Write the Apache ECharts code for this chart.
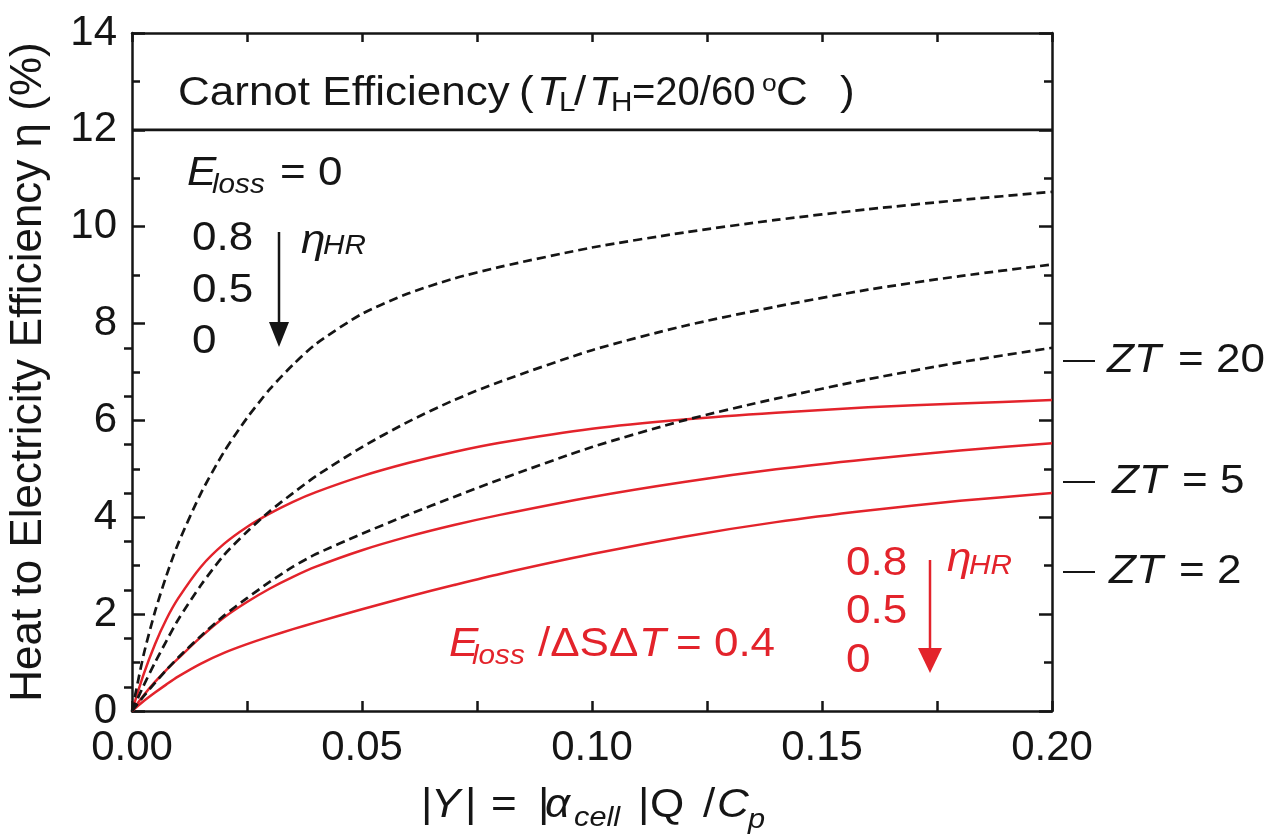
<!DOCTYPE html>
<html>
<head>
<meta charset="utf-8">
<script src="https://cdn.jsdelivr.net/npm/echarts@6/dist/echarts.min.js"></script>
<style>
  html, body { margin: 0; padding: 0; background: #ffffff; }
  #chart { width: 1271px; height: 835px; }
</style>
</head>
<body>
<div id="chart"></div>
<script>
// |Y| values shared by every curve
const Y_ABS = [0, 0.0025, 0.005, 0.0075, 0.01, 0.015, 0.02, 0.025, 0.03, 0.035, 0.04,
               0.05, 0.06, 0.07, 0.08, 0.10, 0.12, 0.14, 0.16, 0.18, 0.20];

// Efficiency (%) with E_loss = 0, for eta_HR = 0.8 / 0.5 / 0
const ETA_NOLOSS_HR08 = [0, 1.15, 2.05, 2.8, 3.45, 4.5, 5.35, 6.05, 6.65, 7.15, 7.58,
                         8.2, 8.62, 8.93, 9.17, 9.57, 9.88, 10.14, 10.36, 10.55, 10.72];
const ETA_NOLOSS_HR05 = [0, 0.52, 1.0, 1.45, 1.88, 2.6, 3.22, 3.7, 4.13, 4.5, 4.85,
                         5.45, 5.97, 6.42, 6.8, 7.45, 7.95, 8.35, 8.7, 8.98, 9.22];
const ETA_NOLOSS_HR0  = [0, 0.3, 0.58, 0.85, 1.1, 1.55, 1.97, 2.33, 2.67, 2.98, 3.24,
                         3.66, 4.05, 4.42, 4.78, 5.45, 6.0, 6.45, 6.85, 7.2, 7.5];

// Efficiency (%) with E_loss / dS dT = 0.4, for eta_HR = 0.8 / 0.5 / 0
const ETA_LOSS_HR08 = [0, 0.75, 1.38, 1.9, 2.32, 2.98, 3.45, 3.8, 4.08, 4.32, 4.52,
                       4.85, 5.12, 5.35, 5.54, 5.83, 6.02, 6.16, 6.27, 6.35, 6.42];
const ETA_LOSS_HR05 = [0, 0.32, 0.6, 0.85, 1.08, 1.53, 1.93, 2.25, 2.53, 2.77, 2.98,
                       3.32, 3.6, 3.84, 4.05, 4.42, 4.73, 4.99, 5.2, 5.38, 5.53];
const ETA_LOSS_HR0  = [0, 0.2, 0.38, 0.55, 0.71, 0.98, 1.2, 1.38, 1.54, 1.69, 1.83,
                       2.1, 2.36, 2.6, 2.83, 3.24, 3.6, 3.9, 4.14, 4.34, 4.5];

// Carnot limit between 20 and 60 degC
const CARNOT_EFF = 12;
const X_RANGE = [0, 0.20];
const Y_RANGE = [0, 14];
const RIGHT_FINE_TICKS = [0.5, 1.5, 2.5, 3.5, 4.5, 5.5, 6.5, 7.5];

const FONT = '"Liberation Sans", Arial, Helvetica, sans-serif';
const BLACK = '#151515';
const RED = '#e3232b';
const SX = 1.1;

const pairs = (ys) => Y_ABS.map((x, i) => [x, ys[i]]);

function txt(x, y, s, o) {
  o = o || {};
  return {
    type: 'text', x: x, y: y, z: 100,
    scaleX: o.sx === undefined ? SX : o.sx,
    style: {
      text: s,
      font: (o.italic ? 'italic ' : '') + (o.size || 40) + 'px ' + FONT,
      fill: o.color || BLACK,
      align: 'left',
      verticalAlign: 'middle'
    }
  };
}
function seg(x1, y1, x2, y2, color, w) {
  return { type: 'line', z: 100, shape: { x1, y1, x2, y2 }, style: { stroke: color, lineWidth: w || 2.5 } };
}
function head(x, yBase, yTip, half, color) {
  return { type: 'polygon', z: 100, shape: { points: [[x - half, yBase], [x + half, yBase], [x, yTip]] }, style: { fill: color } };
}

const dashed = { color: BLACK, width: 2.7, type: [9, 5] };
const solidRed = { color: RED, width: 2.5 };

function curve(name, ys, style) {
  return {
    name, type: 'line', data: pairs(ys), showSymbol: false, symbol: 'none',
    smooth: 0.25, lineStyle: style, silent: true,
    xAxisIndex: 0, yAxisIndex: 0
  };
}

const chart = echarts.init(document.getElementById('chart'), null, { renderer: 'canvas' });

const axisLineOn = { show: true, onZero: false, lineStyle: { color: BLACK, width: 2.5 } };
const tickStyle = { color: BLACK, width: 2.5 };

chart.setOption({
  animation: false,
  backgroundColor: '#ffffff',
  grid: { left: 132, right: 219, top: 33, bottom: 124, containLabel: false, outerBoundsMode: 'none' },
  xAxis: [
    {
      type: 'value', position: 'bottom', min: X_RANGE[0], max: X_RANGE[1], interval: 0.05,
      axisLine: axisLineOn,
      axisTick: { show: true, inside: true, length: 10, lineStyle: tickStyle },
      minorTick: { show: true, splitNumber: 2, length: 10, lineStyle: tickStyle },
      splitLine: { show: false },
      axisLabel: {
        margin: 16, color: BLACK, fontFamily: FONT, fontSize: 42,
        formatter: (v) => v.toFixed(2)
      }
    },
    {
      type: 'value', position: 'top', min: X_RANGE[0], max: X_RANGE[1], interval: 0.05,
      axisLine: axisLineOn,
      axisTick: { show: true, inside: true, length: 9, lineStyle: tickStyle },
      minorTick: { show: true, splitNumber: 2, length: 9, lineStyle: tickStyle },
      splitLine: { show: false }, axisLabel: { show: false }
    }
  ],
  yAxis: [
    {
      type: 'value', position: 'left', min: Y_RANGE[0], max: Y_RANGE[1], interval: 2,
      name: 'Heat to Electricity Efficiency η (%)',
      nameLocation: 'middle', nameGap: 81, nameRotate: 90,
      nameTextStyle: { color: BLACK, fontFamily: FONT, fontSize: 44 },
      axisLine: axisLineOn,
      axisTick: { show: true, inside: true, length: 13, lineStyle: tickStyle },
      minorTick: { show: true, splitNumber: 2, length: 8, lineStyle: tickStyle },
      splitLine: { show: false },
      axisLabel: { margin: 15, color: BLACK, fontFamily: FONT, fontSize: 42 }
    },
    {
      type: 'value', position: 'right', min: Y_RANGE[0], max: Y_RANGE[1], interval: 2,
      axisLine: axisLineOn,
      axisTick: { show: true, inside: true, length: 13, lineStyle: tickStyle },
      minorTick: { show: true, splitNumber: 2, length: 8, lineStyle: tickStyle },
      splitLine: { show: false }, axisLabel: { show: false }
    },
    {
      type: 'value', position: 'right', min: Y_RANGE[0], max: Y_RANGE[1], interval: 2,
      axisLine: { show: false },
      axisTick: { show: true, inside: true, length: 8, customValues: RIGHT_FINE_TICKS, lineStyle: tickStyle },
      splitLine: { show: false }, axisLabel: { show: false }
    }
  ],
  series: [
    {
      name: 'Carnot', type: 'line', silent: true, symbol: 'none',
      data: [[X_RANGE[0], CARNOT_EFF], [X_RANGE[1], CARNOT_EFF]],
      lineStyle: { color: BLACK, width: 2.6 }
    },
    curve('loss, ηHR 0.8', ETA_LOSS_HR08, solidRed),
    curve('loss, ηHR 0.5', ETA_LOSS_HR05, solidRed),
    curve('loss, ηHR 0', ETA_LOSS_HR0, solidRed),
    curve('no loss, ηHR 0.8', ETA_NOLOSS_HR08, dashed),
    curve('no loss, ηHR 0.5', ETA_NOLOSS_HR05, dashed),
    curve('no loss, ηHR 0', ETA_NOLOSS_HR0, dashed)
  ],
  graphic: [
    // Carnot caption
    txt(178, 94, 'Carnot Efficiency'),
    txt(519, 94, '('),
    txt(537, 94, 'T', { italic: true }),
    txt(559, 104, 'L', { size: 27 }),
    txt(574, 94, '/'),
    txt(589, 94, 'T', { italic: true }),
    txt(611, 104, 'H', { size: 27 }),
    txt(632, 94, '=20/60', { sx: 1.0 }),
    txt(762, 84, 'o', { size: 24 }),
    txt(776, 94, 'C'),
    txt(840, 94, ')'),

    // E_loss = 0 group
    txt(187, 174, 'E', { italic: true }),
    txt(212, 185, 'loss', { italic: true, size: 27 }),
    txt(280, 174, '= 0'),
    txt(192, 239, '0.8'),
    txt(192, 291, '0.5'),
    txt(192, 342, '0'),
    seg(279, 232, 279, 326, BLACK, 2.5),
    head(279, 322, 347, 10, BLACK),
    txt(301, 242, 'η', { italic: true }),
    txt(323, 246, 'HR', { italic: true, size: 27 }),

    // E_loss / dS dT = 0.4 group
    txt(449, 645, 'E', { italic: true, color: RED }),
    txt(472, 656, 'loss', { italic: true, size: 27, color: RED }),
    txt(538, 645, '/ΔSΔ', { color: RED }),
    txt(639, 645, 'T', { italic: true, color: RED }),
    txt(676, 645, '= 0.4', { color: RED }),
    txt(846, 564, '0.8', { color: RED }),
    txt(846, 612, '0.5', { color: RED }),
    txt(846, 661, '0', { color: RED }),
    seg(930, 560, 930, 652, RED, 2.5),
    head(930, 648, 673, 12, RED),
    txt(947, 560, 'η', { italic: true, color: RED }),
    txt(969, 566, 'HR', { italic: true, size: 27, color: RED }),

    // ZT labels beside the right axis
    seg(1063, 361, 1095, 361, BLACK, 2),
    txt(1107, 361, 'ZT', { italic: true }),
    txt(1178, 361, '= 20'),
    seg(1063, 482, 1095, 482, BLACK, 2),
    txt(1112, 482, 'ZT', { italic: true }),
    txt(1182, 482, '= 5'),
    seg(1063, 572, 1095, 572, BLACK, 2),
    txt(1109, 572, 'ZT', { italic: true }),
    txt(1179, 572, '= 2'),

    // x-axis title: |Y| = |alpha_cell| Q / C_p
    txt(421, 806, '|'),
    txt(431, 806, 'Y', { italic: true }),
    txt(465, 806, '|'),
    txt(491, 806, '='),
    txt(538, 806, '|'),
    txt(545, 806, 'α', { italic: true }),
    txt(574, 818, 'cell', { italic: true, size: 28 }),
    txt(638, 806, '|'),
    txt(650, 806, 'Q'),
    txt(703, 806, '/'),
    txt(717, 806, 'C', { italic: true }),
    txt(748, 820, 'p', { italic: true, size: 28 })
  ]
});
</script>
</body>
</html>
